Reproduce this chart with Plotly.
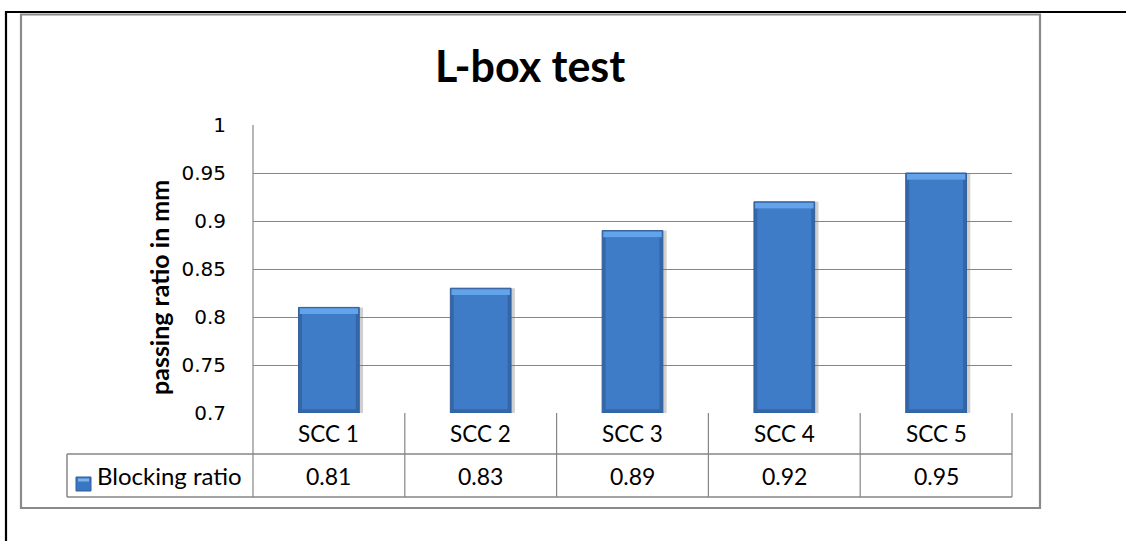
import plotly.graph_objects as go

categories = ["SCC 1", "SCC 2", "SCC 3", "SCC 4", "SCC 5"]
blocking_ratio = [0.81, 0.83, 0.89, 0.92, 0.95]
value_labels = ["0.81", "0.83", "0.89", "0.92", "0.95"]
y_ticks = [0.7, 0.75, 0.8, 0.85, 0.9, 0.95, 1.0]
y_tick_labels = ["0.7", "0.75", "0.8", "0.85", "0.9", "0.95", "1"]
series_name = "Blocking ratio"
title_text = "L-box test"
y_title = "passing ratio in mm"

W, H = 1126, 541
L, R, T, B = 253, 1012, 125, 413
pw, ph = R - L, B - T


def px(x):
    return (x - L) / pw


def py(y):
    return (B - y) / ph


GRID = "#868686"
fig = go.Figure()

# faint shadow
fig.add_trace(go.Bar(
    x=categories, y=[v - 0.7 for v in blocking_ratio], base=0.7, offset=-0.19, width=0.415,
    marker=dict(color="rgba(120,120,120,0.35)", line=dict(width=0)),
    hoverinfo="skip", showlegend=False))
# main bar (darker edge)
fig.add_trace(go.Bar(
    x=categories, y=[v - 0.7 for v in blocking_ratio], base=0.7,
    width=0.40, marker=dict(color="#3466a8", line=dict(color="#2f5e9c", width=1)),
    hoverinfo="skip", showlegend=False))
# inner face
fig.add_trace(go.Bar(
    x=categories, y=[v - 0.7 - 0.011 for v in blocking_ratio], base=0.704,
    width=0.355, marker=dict(color="#3e7cc8", line=dict(width=0)),
    hoverinfo="skip", showlegend=False))
# top bevel highlight
fig.add_trace(go.Bar(
    x=categories, y=[0.006 for _ in blocking_ratio], base=[v - 0.007 for v in blocking_ratio],
    width=0.385, marker=dict(color="#62a3ea", line=dict(width=0)),
    hoverinfo="skip", showlegend=False))

shapes = []
# document black lines
shapes.append(dict(type="line", xref="paper", yref="paper", x0=px(5), x1=px(1130), y0=py(12), y1=py(12),
                   line=dict(color="black", width=2.2)))
shapes.append(dict(type="line", xref="paper", yref="paper", x0=px(6), x1=px(6), y0=py(11), y1=py(545),
                   line=dict(color="black", width=2.2)))
# chart frame
shapes.append(dict(type="rect", xref="paper", yref="paper", x0=px(21), x1=px(1040), y0=py(14.5), y1=py(508),
                   line=dict(color="#8a8a8a", width=2.2)))
# data table
row1, row2 = 454, 497
legend_left = 67
for yy in (row1, row2):
    shapes.append(dict(type="line", xref="paper", yref="paper",
                       x0=px(legend_left), x1=1, y0=py(yy), y1=py(yy),
                       line=dict(color=GRID, width=1.5)))
shapes.append(dict(type="line", xref="paper", yref="paper", x0=px(legend_left), x1=px(legend_left), y0=py(row1), y1=py(row2),
                   line=dict(color=GRID, width=1.5)))
n = len(categories)
for i in range(n + 1):
    shapes.append(dict(type="line", xref="paper", yref="paper", x0=i / n, x1=i / n, y0=0 if i else 1, y1=py(row2),
                       line=dict(color=GRID, width=1.2)))
# legend key
shapes.append(dict(type="rect", xref="paper", yref="paper", x0=px(76), x1=px(91), y0=py(477), y1=py(491),
                   fillcolor="#3a77c2", line=dict(color="#2f5e9c", width=1)))
shapes.append(dict(type="rect", xref="paper", yref="paper", x0=px(78), x1=px(89), y0=py(478.5), y1=py(481.5),
                   fillcolor="#7fb2ea", line=dict(width=0)))

annotations = []
for c, lab in zip(categories, value_labels):
    annotations.append(dict(x=c, xref="x", y=py((B + row1) / 2), yref="paper", text=c, showarrow=False,
                            font=dict(family="Lato", size=22.5, color="black"), xanchor="center", yanchor="middle"))
    annotations.append(dict(x=c, xref="x", y=py((row1 + row2) / 2), yref="paper", text=lab, showarrow=False,
                            font=dict(family="Lato", size=23, color="black"), xanchor="center", yanchor="middle"))
annotations.append(dict(x=px(95), xref="paper", y=py((row1 + row2) / 2), yref="paper", text=series_name,
                        showarrow=False, font=dict(family="Lato", size=24, color="black"),
                        xanchor="left", yanchor="middle"))
annotations.append(dict(x=px(530), xref="paper", y=py(65), yref="paper", text="<b>" + title_text + "</b>",
                        showarrow=False, font=dict(family="Lato", size=43, color="black"),
                        xanchor="center", yanchor="middle"))
annotations.append(dict(x=px(159), xref="paper", y=py(288), yref="paper", text="<b>" + y_title + "</b>",
                        showarrow=False, font=dict(family="Lato", size=25, color="black"),
                        textangle=-90, xanchor="center", yanchor="middle"))

fig.update_layout(
    width=W, height=H, margin=dict(l=L, r=W - R, t=T, b=H - B),
    paper_bgcolor="white", plot_bgcolor="white",
    barmode="overlay", bargap=0.6, showlegend=False,
    shapes=shapes, annotations=annotations,
    xaxis=dict(type="category", range=[-0.5, n - 0.5], showticklabels=False, showgrid=False,
               zeroline=False, showline=False, fixedrange=True),
    yaxis=dict(range=[0.7, 1.0], tickvals=y_ticks, ticktext=y_tick_labels,
               showgrid=True, gridcolor=GRID, gridwidth=1.2, zeroline=False,
               showline=False, ticks="", ticklabelstandoff=26,
               tickfont=dict(family="DejaVu Sans", size=20, color="black"), fixedrange=True),
)

fig.write_html("out.html", config={"displayModeBar": False},
               post_script="document.body.style.margin='0';document.body.style.overflow='hidden';")
